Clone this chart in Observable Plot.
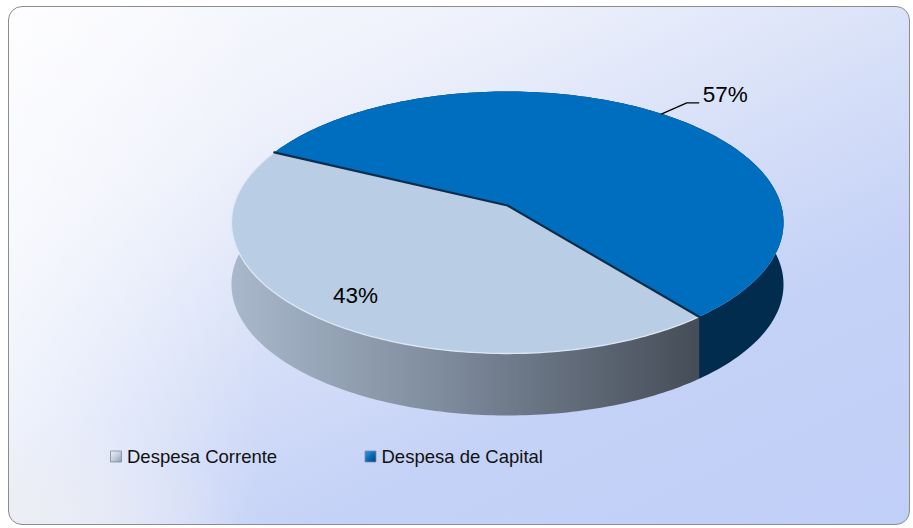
<!DOCTYPE html>
<html><head><meta charset="utf-8">
<script src="https://cdn.jsdelivr.net/npm/d3@7"></script>
<script src="https://cdn.jsdelivr.net/npm/@observablehq/plot@0.6"></script>
<style>
body{margin:0;background:#fff;}
#wrap{position:relative;width:913px;height:528px;overflow:hidden;}
#panel{position:absolute;left:8px;top:6px;width:900px;height:517px;border:1.5px solid #8c8c8c;border-radius:14px;
 background:
  radial-gradient(ellipse 230px 110px at 0% 100%, rgba(236,237,243,0.95), rgba(236,237,243,0)),
  linear-gradient(to right, rgba(255,255,255,0.55) 0%, rgba(255,255,255,0) 28%),
  linear-gradient(155deg, #fbfbfe 0%, #eef1fb 25%, #d6dff8 50%, #c5d2f7 70%, #c0cff8 100%);}
#wrap svg{position:absolute;left:0;top:0;}
</style></head>
<body><div id="wrap"><div id="panel"></div></div>
<script>
// ---- data ----
const categories = ["Despesa Corrente", "Despesa de Capital"];
const values = [43, 57];
const labels = ["43%", "57%"];
const labelOutside = [false, true];
const topColors = ["#b9cde5", "#006ebf"];
const sideColors = ["url(#sideLight)", "#012c4e"];
const legendFills = ["url(#legLight)", "url(#legBlue)"];
const startAngleDeg = 141;

// ---- geometry (projected 3D disc) ----
const W = 913, H = 528;
const cx = 507, cy = 205, A = 273.7, B = 128.8, k = 0.1297, depth = 62;
function proj(theta, r = 1) {
  const u = r * Math.sin(theta), v = -r * Math.cos(theta);
  const w = 1 - k * v;
  return [cx + A * u / w, cy + B * v / w];
}
const total = d3.sum(values);
let acc = startAngleDeg * Math.PI / 180;
const slices = values.map((v, i) => {
  const a0 = acc, a1 = acc + v / total * 2 * Math.PI;
  acc = a1;
  return {i, a0, a1, mid: (a0 + a1) / 2};
});
function arcPts(a0, a1, n = 160, dy = 0) {
  return d3.range(n + 1).map(j => { const p = proj(a0 + (a1 - a0) * j / n); return [p[0], p[1] + dy]; });
}
const X = d => d[0], Y = d => d[1];

const marks = [];
// shadow
const shadowPts = arcPts(0, 2 * Math.PI, 200, depth + 5);
marks.push(Plot.line(shadowPts, {x: X, y: Y, fill: "rgba(30,40,80,0.35)", stroke: "none", ariaLabel: "shadow"}));
// sides
slices.forEach(s => {
  const top = arcPts(s.a0, s.a1);
  const bot = arcPts(s.a0, s.a1, 160, depth).reverse();
  marks.push(Plot.line(top.concat(bot), {x: X, y: Y, fill: sideColors[s.i], stroke: "none"}));
});
// top faces
slices.forEach(s => {
  const pts = [[cx, cy]].concat(arcPts(s.a0, s.a1), [[cx, cy]]);
  marks.push(Plot.line(pts, {x: X, y: Y, fill: topColors[s.i], stroke: "none"}));
});
// light rim on front edge of light slice
marks.push(Plot.line(arcPts(slices[0].a0, slices[0].a1), {x: X, y: Y, stroke: "#e2ebf7", strokeWidth: 1.3, strokeOpacity: 0.9}));
// split lines
marks.push(Plot.line([proj(slices[0].a0), [cx, cy], proj(slices[0].a1)], {x: X, y: Y, stroke: "#0b2d4b", strokeWidth: 2.2}));

// labels
const inLabels = [], outLabels = [], leaders = [];
slices.forEach(s => {
  if (!labelOutside[s.i]) {
    const p = proj(s.mid, 0.82);
    inLabels.push({x: p[0], y: p[1], t: labels[s.i]});
  } else {
    const p1 = proj(s.mid, 1);
    const p2 = [p1[0] + 25, p1[1] - 11];
    const p3 = [p2[0] + 12, p2[1]];
    leaders.push(p1, p2, p3);
    outLabels.push({x: p3[0] + 4, y: p3[1] - 8, t: labels[s.i]});
  }
});
marks.push(Plot.line(leaders, {x: X, y: Y, stroke: "#000", strokeWidth: 1.3}));
marks.push(Plot.text(inLabels, {x: "x", y: "y", text: "t", fontSize: 22.5, fill: "#000", textAnchor: "middle", fontFamily: "Liberation Sans, Arial, sans-serif"}));
marks.push(Plot.text(outLabels, {x: "x", y: "y", text: "t", fontSize: 22.5, fill: "#000", textAnchor: "start", fontFamily: "Liberation Sans, Arial, sans-serif"}));

// legend
const legend = categories.map((c, i) => ({x: 115.5 + i * 254.5, y: 456, c, i}));
marks.push(Plot.dot(legend, {x: "x", y: "y", symbol: "square", r: 6.2, fill: (d) => legendFills[d.i], stroke: "#7d8c9e", strokeWidth: 0.8}));
marks.push(Plot.text(legend, {x: d => d.x + 11, y: d => d.y + 1, text: "c", fontSize: 18.5, fill: "#111", textAnchor: "start", fontFamily: "Liberation Sans, Arial, sans-serif"}));

const svg = Plot.plot({
  width: W, height: H, margin: 0,
  x: {domain: [0, W], range: [0, W], axis: null},
  y: {domain: [0, H], range: [0, H], axis: null},
  color: {type: "identity"},
  style: {background: "transparent", overflow: "visible"},
  marks
});
d3.select(svg).insert("defs", ":first-child").html(`
  <linearGradient id="sideLight" gradientUnits="userSpaceOnUse" x1="230" y1="0" x2="697" y2="0">
    <stop offset="0" stop-color="#a9b8cb"/><stop offset="0.45" stop-color="#7f8c9e"/><stop offset="1" stop-color="#454d57"/>
  </linearGradient>
  <linearGradient id="legLight" x1="0" y1="0" x2="1" y2="1">
    <stop offset="0" stop-color="#eef2f7"/><stop offset="0.5" stop-color="#c3cfdd"/><stop offset="1" stop-color="#8d9cb0"/>
  </linearGradient>
  <linearGradient id="legBlue" x1="0" y1="0" x2="1" y2="1">
    <stop offset="0" stop-color="#3d95dd"/><stop offset="0.5" stop-color="#0a6bbc"/><stop offset="1" stop-color="#003f75"/>
  </linearGradient>
  <filter id="blur" x="-20%" y="-20%" width="140%" height="140%"><feGaussianBlur stdDeviation="5"/></filter>
`);
d3.select(svg).selectAll('g[aria-label="shadow"]').attr("filter", "url(#blur)");
document.getElementById("wrap").appendChild(svg);
</script>
</body></html>
